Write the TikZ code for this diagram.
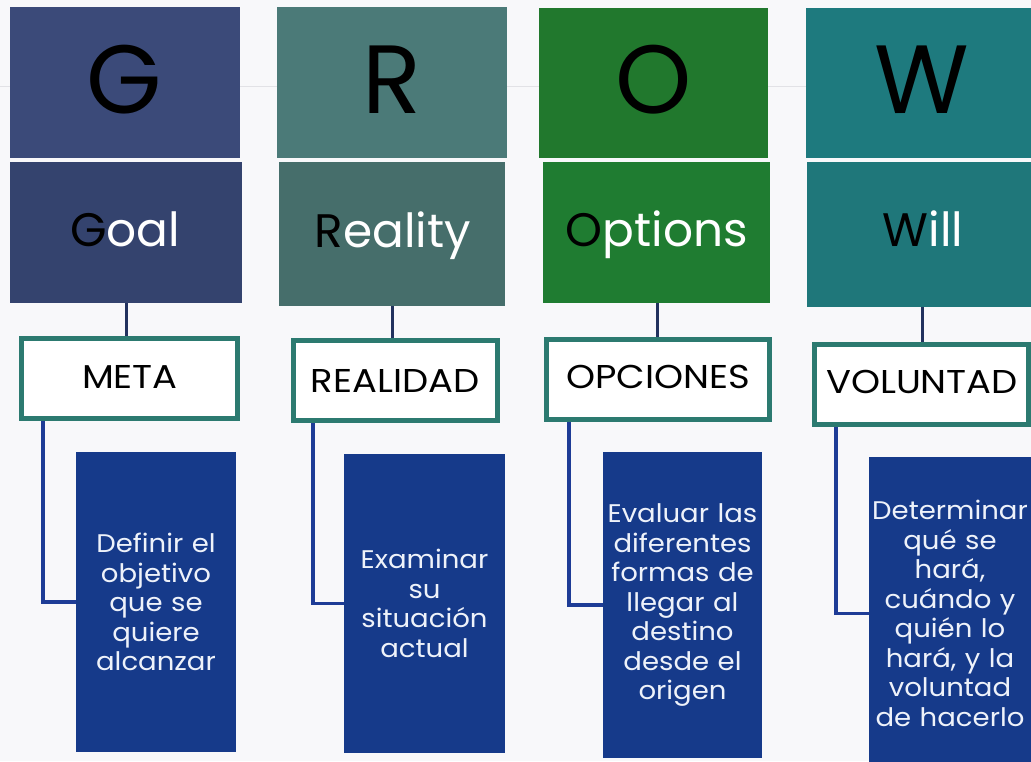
\documentclass[tikz,border=0pt]{standalone}
\usepackage{fontspec}
\setmainfont{Poppins}
\newfontfamily\tagfont[FakeStretch=1.12]{Poppins}
\newfontfamily\descfont[FakeStretch=1.08]{Poppins}
\usetikzlibrary{backgrounds}
\definecolor{bgc}{HTML}{F8F8FA}
\definecolor{faintc}{HTML}{E2E2E6}
\definecolor{gC}{HTML}{3B4A79}
\definecolor{goalC}{HTML}{34436E}
\definecolor{rC}{HTML}{4B7A78}
\definecolor{realC}{HTML}{466E6B}
\definecolor{oC}{HTML}{21782D}
\definecolor{optC}{HTML}{1F7C31}
\definecolor{wC}{HTML}{1E7A7E}
\definecolor{willC}{HTML}{1F777A}
\definecolor{descC}{HTML}{163A8A}
\definecolor{borderC}{HTML}{2C7A70}
\definecolor{elbowC}{HTML}{1E3C96}
\definecolor{topC}{HTML}{22325E}
\definecolor{descT}{HTML}{EEF2FA}
\begin{document}
\begin{tikzpicture}[x=1pt,y=-1pt,
  cell/.style={inner sep=0pt, draw=none},
  bigl/.style={inner sep=0pt, anchor=base, text=black, font=\fontsize{97}{97}\selectfont},
  word/.style={inner sep=0pt, anchor=base, text=white, font=\fontsize{47}{47}\selectfont},
  tag/.style={inner sep=0pt, fill=white, draw=borderC, line width=5pt, minimum height=80pt},
  tagt/.style={inner sep=0pt, anchor=base, text=black, font=\tagfont\fontsize{33}{33}\selectfont},
  desc/.style={inner sep=0pt, fill=descC, text=descT, text width=156pt, align=center, font=\descfont\fontsize{25.5}{29.5}\selectfont},
  elbow/.style={draw=elbowC, line width=3.2pt},
  topc/.style={draw=topC, line width=3pt}]
\useasboundingbox (0,0) rectangle (1031,761);
% boxes
\node[cell, fill=gC, minimum width=230pt, minimum height=151pt] (G) at (125,82.5) {};
\node[cell, fill=goalC, minimum width=232pt, minimum height=141pt] (goal) at (126,232.5) {};
\node[cell, fill=rC, minimum width=230pt, minimum height=151pt] (R) at (392,82.5) {};
\node[cell, fill=realC, minimum width=226pt, minimum height=144pt] (reality) at (392,234) {};
\node[cell, fill=oC, minimum width=229pt, minimum height=150pt] (O) at (653.5,83) {};
\node[cell, fill=optC, minimum width=227pt, minimum height=141pt] (options) at (656.5,232.5) {};
\node[cell, fill=wC, minimum width=230pt, minimum height=150pt] (W) at (921,83) {};
\node[cell, fill=willC, minimum width=232pt, minimum height=145pt] (will) at (923,234.5) {};
% letters
\node[bigl] (Gl) at (124,113) {G};
\node[bigl] (Rl) at (392,113) {R};
\node[bigl] (Ol) at (654,113) {O};
\node[bigl] (Wl) at (922,113) {W};
% words
\node[word] (goalt) at (125,246) {\textcolor{black}{G}oal};
\node[word] (realityt) at (393,247) {\textcolor{black}{R}eality};
\node[word] (optionst) at (657,246) {\textcolor{black}{O}ptions};
\node[word] (willt) at (923,246) {\textcolor{black}{W}ill};
% tags
\node[tag, minimum width=216pt] (meta) at (129.5,378.5) {};
\node[tagt] (metat) at (130,388) {META};
\node[tag, minimum width=204pt] (realidad) at (395.5,380.5) {};
\node[tagt] (realidadt) at (395,392) {REALIDAD};
\node[tag, minimum width=223pt] (opciones) at (658,379) {};
\node[tagt] (opcionest) at (658,388) {OPCIONES};
\node[tag, minimum width=214pt] (voluntad) at (921.5,384) {};
\node[tagt] (voluntadt) at (922,393) {VOLUNTAD};
% descriptions
\node[desc, minimum width=160pt, minimum height=300pt] (d1) at (156,602) {Definir el\\objetivo\\que se\\quiere\\alcanzar};
\node[desc, minimum width=161pt, minimum height=299pt] (d2) at (424.5,603.5) {Examinar\\su\\situación\\actual};
\node[desc, minimum width=159pt, minimum height=306pt] (d3) at (682.5,605) {Evaluar las\\diferentes\\formas de\\llegar al\\destino\\desde el\\origen};
\node[desc, minimum width=162pt, minimum height=313pt] (d4) at (950,613.5) {Determinar\\qué se\\hará,\\cuándo y\\quién lo\\hará, y la\\voluntad\\de hacerlo};
% helper coordinates
\coordinate (t1) at (126,0);
\coordinate (t2) at (392,0);
\coordinate (t3) at (657,0);
\coordinate (t4) at (922,0);
\coordinate (e1) at (43,0);
\coordinate (e2) at (313,0);
\coordinate (e3) at (569,0);
\coordinate (e4) at (836,0);
\begin{scope}[on background layer]
\fill[bgc] (0,0) rectangle (1031,761);
\draw[faintc, line width=0.8pt] (0,86) -- (1031,86);
\draw[topc] (goal.south -| t1) -- (meta.north -| t1);
\draw[topc] (reality.south -| t2) -- (realidad.north -| t2);
\draw[topc] (options.south -| t3) -- (opciones.north -| t3);
\draw[topc] (will.south -| t4) -- (voluntad.north -| t4);
\draw[elbow] (meta.south -| e1) |- (d1.west);
\draw[elbow] (realidad.south -| e2) |- (d2.west);
\draw[elbow] (opciones.south -| e3) |- (d3.west);
\draw[elbow] (voluntad.south -| e4) |- (d4.west);
\end{scope}
\end{tikzpicture}
\end{document}
